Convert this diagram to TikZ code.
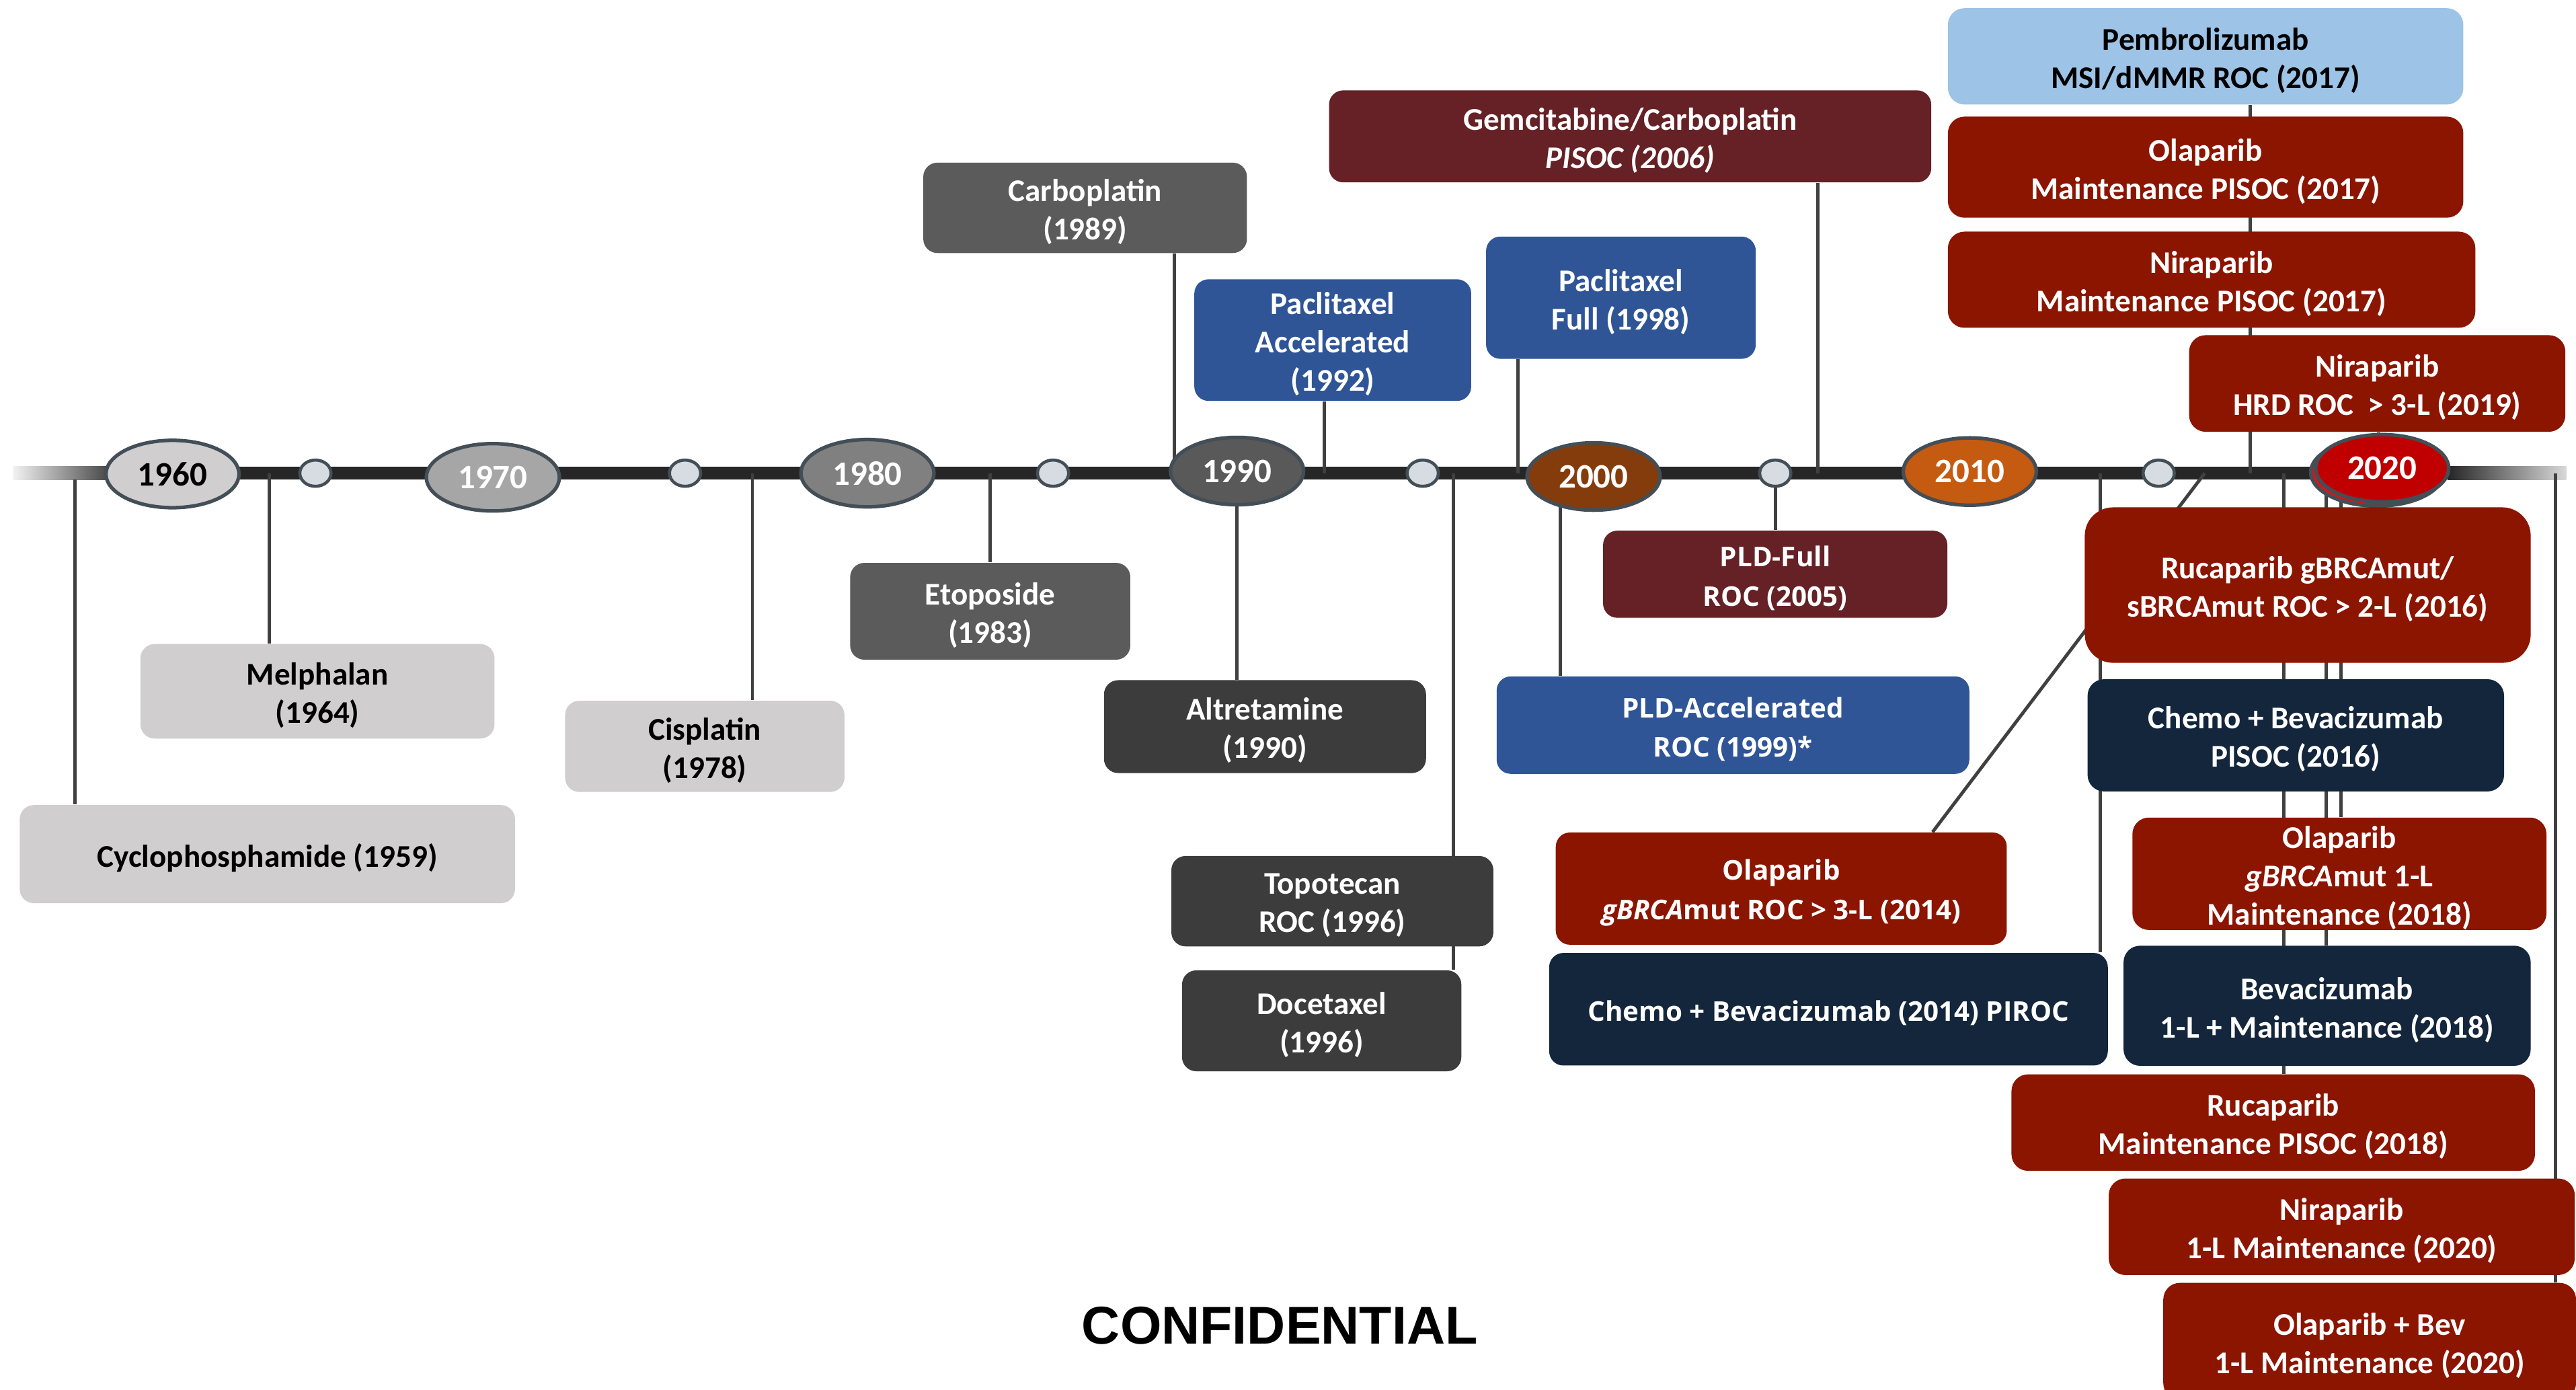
\documentclass[tikz,border=0pt]{standalone}
\usepackage{fontspec}
\setmainfont{Carlito}
\newfontfamily\osans{Open Sans}
\newfontfamily\arialf{Liberation Sans}
\usetikzlibrary{shapes.geometric,calc}

\definecolor{barc}{HTML}{262626}
\definecolor{connc}{HTML}{404040}
\definecolor{ellb}{HTML}{434E57}
\definecolor{tickc}{HTML}{D6DCE1}
\definecolor{lgray}{HTML}{D0CECE}
\definecolor{mgray}{HTML}{5B5B5B}
\definecolor{dgray}{HTML}{3C3C3C}
\definecolor{tblue}{HTML}{2F5597}
\definecolor{maroon}{HTML}{652125}
\definecolor{tred}{HTML}{8C1500}
\definecolor{navy}{HTML}{13263C}
\definecolor{lblue}{HTML}{9DC3E6}
\definecolor{y60}{HTML}{D0CECE}
\definecolor{y70}{HTML}{A6A6A6}
\definecolor{y80}{HTML}{808080}
\definecolor{y90}{HTML}{595959}
\definecolor{y00}{HTML}{843C0C}
\definecolor{y10}{HTML}{C55A11}
\definecolor{y20}{HTML}{C00000}
\definecolor{y20b}{HTML}{D01818}

\pgfdeclarelayer{barlayer}
\pgfdeclarelayer{connlayer}
\pgfsetlayers{barlayer,connlayer,main}

% box given by its left, top, right and bottom edges; #2 = fill style, #3 = text style
\newcommand\tlnode[8]{%
  \node[#2, minimum width={(#6-#4)*0.69516pt}, minimum height={(#7-#5)*0.69516pt}]
    (#1) at ({(#4+#6)/2},{(#5+#7)/2}) {};
  \node[#3] (#1-txt) at ([yshift=-1.7pt]#1.center) {#8};}

\begin{document}
\begin{tikzpicture}[x=0.024432cm, y=-0.024432cm,
  box/.style={rectangle, rounded corners=6pt, inner sep=0pt},
  rbox/.style={box, rounded corners=7pt},
  txt/.style={inner sep=0pt, align=center, text=white,
    font=\bfseries\fontsize{13.4}{16.2}\selectfont},
  btxt/.style={txt, text=black},
  ostxt/.style={txt, font=\osans\bfseries\fontsize{11.5}{16.6}\selectfont},
  conn/.style={draw=connc, line width=1.4pt},
  yr/.style={ellipse, draw=ellb, line width=1.5pt, minimum width=56.3pt,
    minimum height=28.5pt, inner sep=0pt, text=white,
    font=\bfseries\fontsize{14.5}{16}\selectfont},
  tick/.style={ellipse, draw=ellb, line width=1.3pt, fill=tickc,
    minimum width=13.2pt, minimum height=11.1pt, inner sep=0pt}]

\clip (0,0) rectangle (1568,846);
\path[use as bounding box] (0,0) rectangle (1568,846);

% ---- timeline bar ----
\begin{pgfonlayer}{barlayer}
\shade[left color=black!5, right color=black!72] (8,284) rectangle (66,292);
\fill[barc] (66,284) rectangle (1490,292);
\shade[left color=barc, right color=black!15] (1490,284) rectangle (1562,292);
\end{pgfonlayer}

% ---- anchor points on the bar ----
\coordinate (t-cyc) at (45.7,292);
\coordinate (t-mel) at (164,288);
\coordinate (t-cis) at (458,288);
\coordinate (t-eto) at (602.5,288);
\coordinate (t-carbo) at (715,288);
\coordinate (t-paca) at (806,288);
\coordinate (t-topo) at (884.6,288);
\coordinate (t-pacf) at (924,288);
\coordinate (t-pldacc) at (949.6,290);
\coordinate (t-gem) at (1106.7,288);
\coordinate (t-chemo) at (1278.6,288);
\coordinate (t-diag) at (1342,288);
\coordinate (t-pembro) at (1369.5,288);
\coordinate (t-rucm) at (1390,288);
\coordinate (t-bev) at (1416,288);
\coordinate (t-ola) at (1425,288);
\coordinate (t-hrd) at (1448,285);
\coordinate (t-olabev) at (1555.5,288);

% ---- small tick markers ----
\node[tick] (c1) at (192,288) {};
\node[tick] (c2) at (417,288) {};
\node[tick] (c3) at (641,288) {};
\node[tick] (c4) at (866,288) {};
\node[tick] (c5) at (1080.6,288) {};
\node[tick] (c6) at (1314,288) {};

% ---- decade markers ----
\node[yr, fill=y60, text=black] (y1960) at (105,288.5) {1960};
\node[yr, fill=y70] (y1970) at (300,290.5) {1970};
\node[yr, fill=y80] (y1980) at (528,288) {1980};
\node[yr, fill=y90] (y1990) at (753,286.7) {1990};
\node[yr, fill=y00] (y2000) at (970,290) {2000};
\node[yr, fill=y10] (y2010) at (1199,287) {2010};
\node[yr, fill=y20b] (y2020s) at (1447,287.5) {};
\node[yr, fill=y20] (y2020) at (1450,285) {2020};

% ---- boxes: grey (early agents) ----
\tlnode{cyc}{box, fill=lgray}{btxt}{12}{490}{313.5}{549.7}{Cyclophosphamide (1959)}
\tlnode{mel}{box, fill=lgray}{btxt}{85.5}{392}{301}{449.5}{Melphalan\\(1964)}
\tlnode{cis}{box, fill=lgray}{btxt}{344}{426.5}{514}{482}{Cisplatin\\(1978)}
\tlnode{carbo}{box, fill=mgray}{txt}{562}{99}{759}{154}{Carboplatin\\(1989)}
\tlnode{eto}{box, fill=mgray}{txt}{517.5}{342.6}{688}{401.5}{Etoposide\\(1983)}
\tlnode{alt}{box, fill=dgray}{txt}{672}{414}{868}{470.5}{Altretamine\\(1990)}
\tlnode{topo}{box, fill=dgray}{txt}{713}{521}{909}{576}{Topotecan\\ROC (1996)}
\tlnode{doce}{box, fill=dgray}{txt}{719.5}{590.6}{889.5}{652}{Docetaxel\\(1996)}

% ---- boxes: taxanes, liposomal doxorubicin, 2000s ----
\tlnode{paca}{box, fill=tblue}{txt}{727}{170}{895.5}{244}{Paclitaxel\\Accelerated\\(1992)}
\tlnode{pacf}{box, fill=tblue}{txt}{904.6}{144}{1068.7}{218.4}{Paclitaxel\\Full (1998)}
\tlnode{pldacc}{box, fill=tblue}{ostxt}{911}{411.7}{1198.7}{471}{PLD-Accelerated\\ROC (1999)*}
\tlnode{gem}{box, fill=maroon}{txt}{809}{55}{1175.5}{111}{Gemcitabine/Carboplatin\\\textit{PISOC (2006)}}
\tlnode{pldfull}{box, fill=maroon}{ostxt}{975.8}{323}{1185.3}{376}{PLD-Full\\ROC (2005)}
\tlnode{ola14}{box, fill=tred}{ostxt}{947}{506.7}{1221.5}{575}{Olaparib\\\textit{gBRCA}mut ROC > 3-L (2014)}
\tlnode{chemo14}{box, fill=navy}{ostxt}{943}{580}{1283}{648.5}{Chemo + Bevacizumab (2014) PIROC}

% ---- boxes: recent approvals ----
\tlnode{pembro}{rbox, fill=lblue}{btxt}{1185.7}{5}{1499.4}{63.6}{Pembrolizumab\\MSI/dMMR ROC (2017)}
\tlnode{olam17}{rbox, fill=tred}{txt}{1185.7}{71}{1499.4}{132.5}{Olaparib\\Maintenance PISOC (2017)}
\tlnode{nirm17}{rbox, fill=tred}{txt}{1185.7}{141}{1506.7}{199.5}{Niraparib\\Maintenance PISOC (2017)}
\tlnode{nirhrd}{rbox, fill=tred}{txt}{1332.5}{204}{1561.5}{262.8}{Niraparib\\HRD ROC~ > 3-L (2019)}
\tlnode{ruc16}{box, rounded corners=12pt, fill=tred}{txt}{1269}{308.8}{1540.4}{403.4}{Rucaparib gBRCAmut/\\sBRCAmut ROC > 2-L (2016)}
\tlnode{chemo16}{rbox, fill=navy}{txt}{1270.7}{413.4}{1524.2}{481.7}{Chemo + Bevacizumab\\PISOC (2016)}
\tlnode{ola18}{rbox, fill=tred}{txt}{1298}{497.6}{1550}{566}{Olaparib\\\textit{gBRCA}mut 1-L\\Maintenance (2018)}
\tlnode{bev18}{rbox, fill=navy}{txt}{1292.6}{575.6}{1540.4}{648.7}{Bevacizumab\\1-L + Maintenance (2018)}
\tlnode{rucm18}{rbox, fill=tred}{txt}{1224.4}{653.9}{1543}{712.6}{Rucaparib\\Maintenance PISOC (2018)}
\tlnode{nir20}{rbox, fill=tred}{txt}{1283.6}{717.3}{1567.2}{776}{Niraparib\\1-L Maintenance (2020)}
\tlnode{olabev}{rbox, fill=tred}{txt}{1316.8}{780.8}{1568}{852}{Olaparib + Bev\\1-L Maintenance (2020)}

% ---- connectors, drawn beneath markers and boxes ----
\begin{pgfonlayer}{connlayer}
\draw[conn] (t-cyc) -- (t-cyc |- cyc.north);
\draw[conn] (t-mel) -- (t-mel |- mel.north);
\draw[conn] (t-cis) -- (t-cis |- cis.north);
\draw[conn] (t-eto) -- (t-eto |- eto.north);
\draw[conn] (t-carbo |- carbo.south) -- (t-carbo);
\draw[conn] (y1990.center) -- (y1990.center |- alt.north);
\draw[conn] (t-paca |- paca.south) -- (t-paca);
\draw[conn] (t-pacf |- pacf.south) -- (t-pacf);
\draw[conn] (t-gem |- gem.south) -- (t-gem);
\draw[conn] (t-topo) -- (t-topo |- doce.north);
\draw[conn] (t-pldacc) -- (t-pldacc |- pldacc.north);
\draw[conn] (c5.center) -- (c5.center |- pldfull.north);
\draw[conn] (t-chemo) -- (t-chemo |- chemo14.north);
\draw[conn] (t-diag) -- ([xshift=-31.6pt]ola14.north east);
\draw[conn] (t-pembro |- pembro.south) -- (t-pembro);
\draw[conn] (t-hrd |- nirhrd.south) -- (t-hrd);
\draw[conn] (t-rucm) -- (t-rucm |- rucm18.north);
\draw[conn] (t-bev) -- (t-bev |- bev18.north);
\draw[conn] (t-ola) -- (t-ola |- ola18.north);
\draw[conn] (t-olabev) -- (t-olabev |- olabev.north);
\end{pgfonlayer}

% ---- footer ----
\node[font=\arialf\bfseries\fontsize{22.5}{26}\selectfont] (conf) at (779,807) {CONFIDENTIAL};
\end{tikzpicture}
\end{document}
